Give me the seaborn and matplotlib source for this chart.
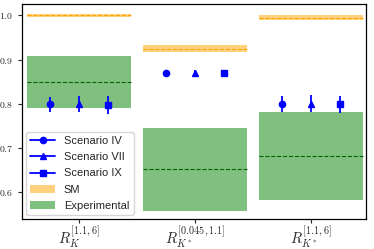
import numpy as np
import matplotlib
matplotlib.use('Agg')
import matplotlib.pyplot as plt
from matplotlib.lines import Line2D
import seaborn as sns

# observables
labels = [r'$R_K^{[1.1,6]}$', r'$R_{K^*}^{[0.045,1.1]}$', r'$R_{K^*}^{[1.1,6]}$']

# SM prediction (central, half width)
sm_central = [1.000, 0.925, 0.995]
sm_err = [0.004, 0.008, 0.006]

# experimental value and band edges
exp_central = [0.849, 0.652, 0.683]
exp_low = [0.791, 0.559, 0.582]
exp_high = [0.908, 0.745, 0.782]

# scenario predictions
scenarios = ['Scenario IV', 'Scenario VII', 'Scenario IX']
markers = ['o', '^', 's']
sc_vals = [[0.799, 0.870, 0.800],
           [0.800, 0.870, 0.801],
           [0.797, 0.870, 0.799]]
sc_errs = [[0.017, 0.007, 0.018],
           [0.019, 0.006, 0.020],
           [0.020, 0.007, 0.020]]

sns.set_theme(style='ticks')
plt.rcParams['mathtext.fontset'] = 'cm'
plt.rcParams['font.family'] = ['Liberation Sans', 'DejaVu Sans']

fig = plt.figure(figsize=(3.74, 2.49), dpi=100)
ax = fig.add_axes([0.059, 0.1205, 0.919, 0.8635])

x = np.arange(len(labels))
width = 0.9

# SM bands
sm_bar = ax.bar(x, 2 * np.array(sm_err), width=width, bottom=np.array(sm_central) - np.array(sm_err),
                color='orange', alpha=0.5, linewidth=0)
ax.hlines(sm_central, x - width / 2, x + width / 2, colors='orange', linestyles='--', linewidth=0.8)

# experimental bands
exp_bar = ax.bar(x, np.array(exp_high) - np.array(exp_low), width=width, bottom=exp_low,
                 color='green', alpha=0.5, linewidth=0)
ax.hlines(exp_central, x - width / 2, x + width / 2, colors='darkgreen', linestyles='--', linewidth=0.8)

offsets = [-0.25, 0.0, 0.25]
handles = []
for k, name in enumerate(scenarios):
    for i in range(len(labels)):
        ax.errorbar(x[i] + offsets[k], sc_vals[k][i], yerr=sc_errs[k][i],
                    marker=markers[k], color='blue', markersize=4.5, linewidth=1.3)
    handles.append(Line2D([], [], color='blue', marker=markers[k], markersize=4.5, linewidth=1.3))

handles += [sm_bar, exp_bar]
ax.legend(handles, scenarios + ['SM', 'Experimental'], loc='lower left', fontsize=8,
          handlelength=2.2, labelspacing=0.55, borderaxespad=0.35)

ax.set_xticks(x)
ax.set_xticklabels(labels, fontsize=10.5)
yt = [0.6, 0.7, 0.8, 0.9, 1.0]
ax.set_yticks(yt)
ax.set_yticklabels([r'$%.1f$' % v for v in yt], fontsize=7)
ax.set_xlim(-0.49, 2.47)
ax.set_ylim(0.54, 1.026)
ax.tick_params(length=3, width=0.8)
ax.tick_params(axis='x', pad=1)
for s in ax.spines.values():
    s.set_linewidth(0.9)
    s.set_color('black')

fig.savefig('out.png', dpi=100)
